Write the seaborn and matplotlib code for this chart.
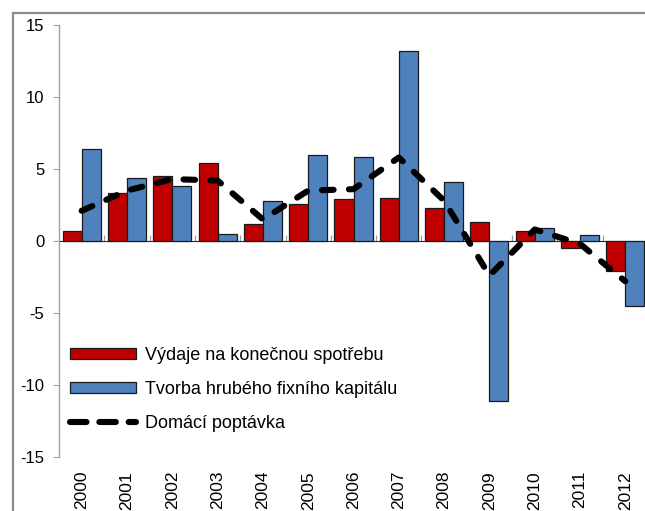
# Czech GDP components chart: bars + dashed line for domestic demand
import numpy as np
import pandas as pd
import seaborn as sns
import matplotlib.pyplot as plt
from matplotlib.patches import Rectangle

years = [str(y) for y in range(2000, 2013)]
vydaje = [0.7, 3.3, 4.5, 5.4, 1.2, 2.6, 2.9, 3.0, 2.3, 1.3, 0.7, -0.5, -2.1]
tvorba = [6.4, 4.4, 3.8, 0.5, 2.8, 6.0, 5.8, 13.2, 4.1, -11.1, 0.9, 0.4, -4.5]
domaci = [2.1, 3.5, 4.3, 4.2, 1.5, 3.5, 3.6, 5.8, 2.8, -2.4, 0.8, -0.2, -2.8]

lab_v = "Výdaje na konečnou spotřebu"
lab_t = "Tvorba hrubého fixního kapitálu"
lab_d = "Domácí poptávka"

df = pd.DataFrame({"rok": years * 2,
                   "hodnota": vydaje + tvorba,
                   "serie": [lab_v] * 13 + [lab_t] * 13})

sns.set_style("white")
plt.rcParams["font.family"] = ["Liberation Sans", "DejaVu Sans"]
plt.rcParams["text.color"] = "black"
plt.rcParams["xtick.labelcolor"] = "black"
plt.rcParams["ytick.labelcolor"] = "black"

fig = plt.figure(figsize=(6.45, 5.11), dpi=100)
ax = fig.add_axes([59 / 645, 1 - 457 / 511, 589 / 645, 432 / 511])

sns.barplot(data=df, x="rok", y="hodnota", hue="serie",
            palette=["#C00000", "#4F81BD"], width=0.84, gap=0,
            edgecolor="#1a1a1a", linewidth=0.9, saturation=1, ax=ax)

sns.lineplot(x=np.arange(13), y=domaci, color="black", lw=4.4,
             linestyle=(0, (1.9, 2.5)), dash_capstyle="round",
             label=lab_d, ax=ax)

ax.set_xlim(-0.5, 12.5)
ax.set_ylim(-15, 15)
ax.set_yticks([-15, -10, -5, 0, 5, 10, 15])
ax.set_yticklabels(["-15", "-10", "-5", "0", "5", "10", "15"])
ax.set_xlabel("")
ax.set_ylabel("")

for s in ["top", "right", "bottom"]:
    ax.spines[s].set_visible(False)
ax.spines["left"].set_color("#a0a0a0")
ax.spines["left"].set_linewidth(1.0)
ax.tick_params(axis="y", direction="out", length=4.5, width=0.8,
               color="#a0a0a0", labelsize=12, pad=6, left=True,
               labelcolor="black")
ax.tick_params(axis="x", length=0, labelsize=12.5, pad=10, labelrotation=90,
               labelcolor="black")

# zero line with category-boundary ticks
sec = ax.secondary_xaxis(0.5)
sec.set_xticks(np.arange(0.5, 12.5, 1.0))
sec.set_xticklabels([])
sec.spines["bottom"].set_color("#a0a0a0")
sec.spines["bottom"].set_linewidth(1.6)
sec.tick_params(direction="out", length=4.5, width=0.9, color="#a0a0a0")

leg = ax.legend(loc="upper left", bbox_to_anchor=(0.018, 0.255), frameon=False,
                fontsize=13, handlelength=3.7, handleheight=0.55,
                handletextpad=0.45, labelspacing=0.95, borderpad=0,
                borderaxespad=0)
leg.get_lines()[0].set_linestyle((0, (2.7, 2.1)))
for t in leg.get_texts():
    t.set_color("black")

# outer chart frame
fig.add_artist(Rectangle((12.5 / 645, -0.2), 2, 1 - 13 / 511 + 0.2,
                         transform=fig.transFigure, fill=False,
                         edgecolor="#8c8c8c", lw=1.6))

fig.savefig("out.png", dpi=100)
